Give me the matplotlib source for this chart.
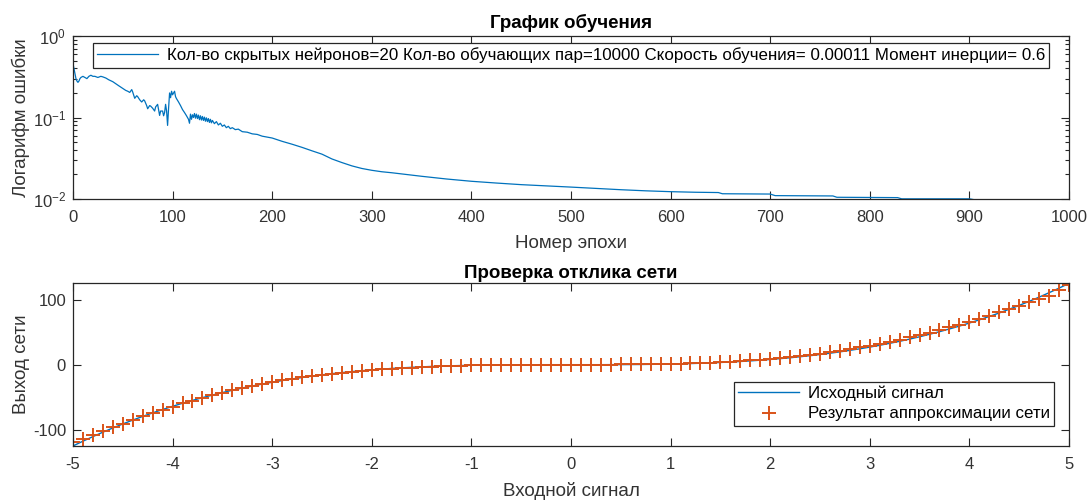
import numpy as np
import matplotlib.pyplot as plt
from matplotlib.ticker import LogLocator, NullFormatter

plt.rcParams['font.family'] = ['Liberation Sans', 'DejaVu Sans']
plt.rcParams['font.size'] = 12
plt.rcParams['axes.unicode_minus'] = False

# --- данные: график обучения ---
epochs = [0, 1, 2, 3, 4, 5, 6, 7, 8, 10, 12, 14, 16, 18, 20, 22, 25, 28, 30, 33, 36, 40,
          43, 46, 50, 53, 55, 57, 59, 60, 62, 64, 65, 67, 69, 71, 72, 74, 75, 77, 78, 80,
          82, 83, 85, 86, 87, 88, 90, 91, 92, 93, 94, 95, 96, 97, 98, 99, 100, 101, 102,
          103, 104, 106, 108, 110, 112, 114, 116, 117, 118, 119, 120, 121, 122, 123, 124,
          125, 126, 127, 128, 129, 130, 131, 132, 133, 134, 135, 136, 137, 138, 139, 140,
          142, 144, 146, 148, 150, 152, 154, 156, 158, 160, 163, 166, 170, 175, 180, 185,
          190, 195, 200, 210, 220, 230, 240, 250, 260, 270, 280, 290, 300, 310, 320, 330,
          350, 375, 400, 425, 450, 475, 500, 525, 550, 575, 600, 625, 648, 652, 700, 705,
          763, 767, 828, 832, 900, 905, 1000]
err = [0.46, 0.40, 0.35, 0.30, 0.28, 0.27, 0.28, 0.30, 0.31, 0.32, 0.31, 0.30, 0.32, 0.33,
       0.32, 0.32, 0.31, 0.32, 0.315, 0.305, 0.29, 0.275, 0.26, 0.245, 0.227, 0.215, 0.21,
       0.203, 0.22, 0.205, 0.172, 0.185, 0.18, 0.165, 0.155, 0.165, 0.16, 0.14, 0.128,
       0.14, 0.138, 0.13, 0.12, 0.135, 0.145, 0.125, 0.106, 0.12, 0.12, 0.105, 0.115,
       0.145, 0.12, 0.08, 0.13, 0.20, 0.175, 0.21, 0.19, 0.20, 0.21, 0.18, 0.17, 0.155,
       0.14, 0.125, 0.115, 0.105, 0.095, 0.085, 0.11, 0.095, 0.108, 0.10, 0.112, 0.098,
       0.11, 0.097, 0.107, 0.094, 0.105, 0.093, 0.103, 0.092, 0.101, 0.09, 0.099, 0.089,
       0.097, 0.087, 0.095, 0.086, 0.092, 0.084, 0.089, 0.081, 0.085, 0.078, 0.081, 0.075,
       0.078, 0.073, 0.075, 0.071, 0.072, 0.067, 0.066, 0.063, 0.062, 0.059, 0.0575, 0.056,
       0.051, 0.047, 0.043, 0.039, 0.0355, 0.031, 0.028, 0.0255, 0.0237, 0.0225, 0.0216,
       0.021, 0.0203, 0.019, 0.0176, 0.0165, 0.0157, 0.015, 0.0145, 0.014, 0.0135, 0.013,
       0.0126, 0.0123, 0.0121, 0.012, 0.0116, 0.0115, 0.011, 0.0109, 0.0105, 0.0104,
       0.01005, 0.01005, 0.0098, 0.0096]

# --- данные: проверка отклика сети ---
x_in = np.round(np.arange(-50, 51) / 10, 1)
y_src = [-125.0, -117.6, -110.6, -103.8, -97.3, -91.1, -85.2, -79.5, -74.1, -68.9,
         -64.0, -59.3, -54.9, -50.7, -46.7, -42.9, -39.3, -35.9, -32.8, -29.8,
         -27.0, -24.4, -22.0, -19.7, -17.6, -15.6, -13.8, -12.2, -10.6, -9.3,
         -8.0, -6.9, -5.8, -4.9, -4.1, -3.4, -2.7, -2.2, -1.7, -1.3,
         -1.0, -0.7, -0.5, -0.3, -0.2, -0.1, -0.1, 0.0, 0.0, 0.0,
         0.0,
         0.0, 0.0, 0.0, 0.1, 0.1, 0.2, 0.3, 0.5, 0.7, 1.0,
         1.3, 1.7, 2.2, 2.7, 3.4, 4.1, 4.9, 5.8, 6.9, 8.0,
         9.3, 10.6, 12.2, 13.8, 15.6, 17.6, 19.7, 22.0, 24.4, 27.0,
         29.8, 32.8, 35.9, 39.3, 42.9, 46.7, 50.7, 54.9, 59.3, 64.0,
         68.9, 74.1, 79.5, 85.2, 91.1, 97.3, 103.8, 110.6, 117.6, 125.0]
y_net = [-118.5, -114.0, -108.5, -102.5, -96.5, -90.6, -85.0, -79.5, -74.3, -69.2,
         -64.3, -59.6, -55.1, -50.8, -46.7, -42.8, -39.1, -35.6, -32.4, -29.4,
         -26.6, -24.0, -21.6, -19.4, -17.3, -15.4, -13.7, -12.1, -10.7, -9.4,
         -8.2, -7.1, -6.1, -5.2, -4.4, -3.7, -3.0, -2.4, -1.9, -1.4,
         -1.0, -0.7, -0.4, -0.2, -0.1, 0.0, 0.1, 0.1, 0.1, 0.1,
         0.1,
         0.1, 0.1, 0.2, 0.2, 0.3, 0.4, 0.6, 0.8, 1.0, 1.3,
         1.7, 2.1, 2.6, 3.2, 3.9, 4.6, 5.5, 6.5, 7.6, 8.8,
         10.1, 11.6, 13.2, 15.0, 16.9, 19.0, 21.3, 23.8, 26.4, 29.2,
         32.1, 35.2, 38.5, 41.9, 45.5, 49.3, 53.3, 57.4, 61.7, 66.1,
         70.7, 75.5, 80.4, 85.4, 90.5, 95.7, 101.0, 106.3, 114.5, 122.0]

legend_top = ('Кол-во скрытых нейронов=20 Кол-во обучающих пар=10000 '
              'Скорость обучения= 0.00011 Момент инерции= 0.6')

blue = '#0072BD'
orange = '#D95319'
dark = '#262626'
label_fs = 13.5

fig = plt.figure(figsize=(10.89, 5.0), dpi=100)
ax1 = fig.add_axes([0.067, 0.602, 0.9146, 0.326])
ax2 = fig.add_axes([0.067, 0.108, 0.9146, 0.3253])


def style(ax):
    for s in ax.spines.values():
        s.set_color(dark)
        s.set_linewidth(0.9)
    ax.tick_params(which='both', direction='in', top=True, right=True,
                   colors=dark, labelcolor='#333333', width=0.8, labelsize=12)
    ax.tick_params(which='major', length=6)
    ax.tick_params(which='minor', length=3)
    ax.tick_params(axis='x', pad=8)
    ax.tick_params(axis='y', pad=5)


# график обучения
ax1.semilogy(epochs, err, color=blue, lw=0.9, label=legend_top)
ax1.set_xlim(0, 1000)
ax1.set_ylim(0.01, 1)
ax1.set_xticks(range(0, 1001, 100))
ax1.yaxis.set_minor_locator(LogLocator(base=10, subs=np.arange(2, 10)))
ax1.yaxis.set_minor_formatter(NullFormatter())
style(ax1)
ax1.set_title('График обучения', fontweight='bold', fontsize=13.5, color='black', pad=6)
ax1.set_xlabel('Номер эпохи', color='#333333', fontsize=label_fs, labelpad=7)
ax1.set_ylabel('Логарифм ошибки', color='#333333', fontsize=label_fs, labelpad=2)
leg1 = ax1.legend(loc='upper center', bbox_to_anchor=(0.5, 0.955), fancybox=False,
                  edgecolor=dark, framealpha=1, handlelength=3.6, borderpad=0.25,
                  handletextpad=0.5, borderaxespad=0, fontsize=12.2)
leg1.get_frame().set_linewidth(0.9)

# проверка отклика сети
ax2.plot(x_in, y_src, color=blue, lw=1.0, label='Исходный сигнал')
ax2.plot(x_in, y_net, ls='none', marker='+', color=orange, ms=10, mew=1.4,
         label='Результат аппроксимации сети')
ax2.set_xlim(-5, 5)
ax2.set_ylim(-125, 125)
ax2.set_xticks(range(-5, 6))
ax2.set_yticks([-100, 0, 100])
style(ax2)
ax2.set_title('Проверка отклика сети', fontweight='bold', fontsize=13.5, color='black', pad=4)
ax2.set_xlabel('Входной сигнал', color='#333333', fontsize=label_fs, labelpad=7)
ax2.set_ylabel('Выход сети', color='#333333', fontsize=label_fs, labelpad=2)
leg2 = ax2.legend(loc='lower right', bbox_to_anchor=(0.985, 0.125), fancybox=False,
                  edgecolor=dark, framealpha=1, handlelength=3.6, borderpad=0.25,
                  handletextpad=0.5, borderaxespad=0, labelspacing=0.3, fontsize=12.2)
leg2.get_frame().set_linewidth(0.9)

fig.savefig('out.png', dpi=100)
